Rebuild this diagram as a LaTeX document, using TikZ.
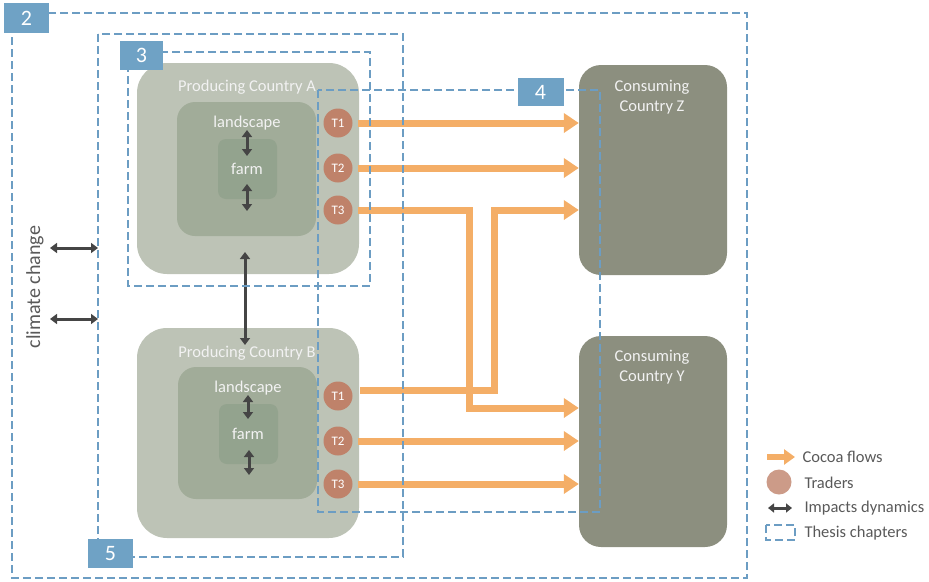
\documentclass[tikz,border=0pt]{standalone}
\usepackage{fontspec}
\setmainfont{Carlito}
\usetikzlibrary{arrows.meta}
\definecolor{prodc}{HTML}{BDC3B6}
\definecolor{landc}{HTML}{A1AC99}
\definecolor{farmc}{HTML}{93A38E}
\definecolor{consc}{HTML}{8C8F7F}
\definecolor{dashc}{HTML}{6C9DC3}
\definecolor{labc}{HTML}{6FA2C5}
\definecolor{flowc}{HTML}{F4AE67}
\definecolor{tradc}{HTML}{BF826A}
\definecolor{darkc}{HTML}{454545}
\definecolor{txtc}{HTML}{595959}
\tikzset{
  region/.style={draw=none, rounded corners=#1, inner sep=0pt},
  boxtext/.style={text=white!95!black, font=\fontsize{16.5}{20}\selectfont, align=center, inner sep=0pt},
  trader/.style={circle, fill=tradc, minimum size=29pt, inner sep=0pt, text=white, font=\fontsize{13}{14}\selectfont},
  flow/.style={draw=flowc, line width=7pt, -{Triangle[width=19pt,length=15pt]}},
  impact/.style={draw=darkc, line width=3pt, {Triangle[width=10pt,length=7pt]}-{Triangle[width=10pt,length=7pt]}},
  chapter/.style={draw=dashc, line width=2pt, dash pattern=on 8pt off 4pt},
  chaplabel/.style={fill=labc, text=white, font=\fontsize{22}{24}\selectfont, inner sep=0pt},
  legtext/.style={text=txtc, anchor=west, font=\fontsize{16.5}{18}\selectfont}
}
\begin{document}
\begin{tikzpicture}[x=1pt,y=-1pt]
\useasboundingbox (0,0) rectangle (929,581);
% producing countries
\node[region=30pt, fill=prodc, minimum width=222pt, minimum height=211pt] (PA) at (248,168.5) {};
\node[region=18pt, fill=landc, minimum width=139pt, minimum height=134pt] (LA) at (246.5,169) {};
\node[region=8pt, fill=farmc, minimum width=59pt, minimum height=60pt] (FA) at (247.5,169) {};
\node[boxtext] (tPA) at (247,87) {Producing Country A};
\node[boxtext] (tLA) at (247,123) {landscape};
\node[boxtext] (tFA) at (247,169) {farm};

\node[region=30pt, fill=prodc, minimum width=222pt, minimum height=210pt] (PB) at (248,433) {};
\node[region=18pt, fill=landc, minimum width=139pt, minimum height=132pt] (LB) at (247.5,433) {};
\node[region=8pt, fill=farmc, minimum width=59pt, minimum height=60pt] (FB) at (248.5,434) {};
\node[boxtext] (tPB) at (247,353) {Producing Country B};
\node[boxtext] (tLB) at (248,388) {landscape};
\node[boxtext] (tFB) at (248,434) {farm};

% consuming countries
\node[region=22pt, fill=consc, minimum width=148pt, minimum height=210pt] (Z) at (653,170) {};
\node[boxtext] (tZ) at (652,97) {Consuming\\Country Z};
\node[region=22pt, fill=consc, minimum width=148pt, minimum height=211pt] (Y) at (653,441.5) {};
\node[boxtext] (tY) at (652,367) {Consuming\\Country Y};

% traders
\node[trader] (A1) at (338,123) {T1};
\node[trader] (A2) at (338,168) {T2};
\node[trader] (A3) at (338,210) {T3};
\node[trader] (B1) at (338,396) {T1};
\node[trader] (B2) at (338,441) {T2};
\node[trader] (B3) at (338,484) {T3};

% cocoa flows
\coordinate (bendA) at (469,408);
\coordinate (bendB) at (494,210);
\coordinate (sB1) at (360,390);
\draw[flow] ([xshift=5pt]A1.east) -- (Z.west |- A1);
\draw[flow] ([xshift=5pt]A2.east) -- (Z.west |- A2);
\draw[flow] ([xshift=5pt]A3.east) -| (bendA) -- (Y.west |- bendA);
\draw[flow] (sB1) -| (bendB) -- (Z.west |- bendB);
\draw[flow] ([xshift=5pt]B2.east) -- (Y.west |- B2);
\draw[flow] ([xshift=5pt]B3.east) -- (Y.west |- B3);

% impacts
\coordinate (ia1) at (247,130); \coordinate (ia2) at (247,156);
\coordinate (ia3) at (247,184); \coordinate (ia4) at (247,211);
\draw[impact] (ia1) -- (ia2);
\draw[impact] (ia3) -- (ia4);
\coordinate (ib1) at (248,395); \coordinate (ib2) at (248,419);
\coordinate (ib3) at (249,450); \coordinate (ib4) at (249,475);
\draw[impact] (ib1) -- (ib2);
\draw[impact] (ib3) -- (ib4);
\coordinate (ab1) at (245,252); \coordinate (ab2) at (245,345);
\draw[impact] (ab1) -- (ab2);

\node[rotate=90, text=txtc, font=\fontsize{20}{22}\selectfont] (cc) at (35,287) {climate change};
\coordinate (c1a) at (50,248); \coordinate (c1b) at (98,248);
\coordinate (c2a) at (50,319); \coordinate (c2b) at (98,319);
\draw[impact] (c1a) -- (c1b);
\draw[impact] (c2a) -- (c2b);

% thesis chapters
\draw[chapter] (12,13) rectangle (747,578);
\draw[chapter] (98,34) rectangle (403,557);
\draw[chapter] (128,52) rectangle (370,286);
\draw[chapter] (318,90) rectangle (600,512);
\node[chaplabel, minimum width=45pt, minimum height=30pt] (L2) at (26.5,18) {2};
\node[chaplabel, minimum width=43pt, minimum height=29pt] (L3) at (141.5,55) {3};
\node[chaplabel, minimum width=46pt, minimum height=28pt] (L4) at (540.5,92) {4};
\node[chaplabel, minimum width=45pt, minimum height=29pt] (L5) at (110.5,553.5) {5};

% legend
\coordinate (lf1) at (767,457); \coordinate (lf2) at (795,457);
\draw[draw=flowc, line width=6pt, -{Triangle[width=15pt,length=11pt]}] (lf1) -- (lf2);
\node[legtext] (lt1) at (799,457) {Cocoa flows};
\node[circle, fill=tradc!80!white, minimum size=25pt, inner sep=0pt] (lc) at (779,482) {};
\node[legtext] (lt2) at (801,483) {Traders};
\coordinate (li1) at (768,508); \coordinate (li2) at (792,508);
\draw[draw=darkc, line width=3pt, {Triangle[width=9pt,length=6pt]}-{Triangle[width=9pt,length=6pt]}] (li1) -- (li2);
\node[legtext] (lt3) at (801,508) {Impacts dynamics};
\draw[chapter] (766,525) rectangle (795,540);
\node[legtext] (lt4) at (801,533) {Thesis chapters};
\end{tikzpicture}
\end{document}
